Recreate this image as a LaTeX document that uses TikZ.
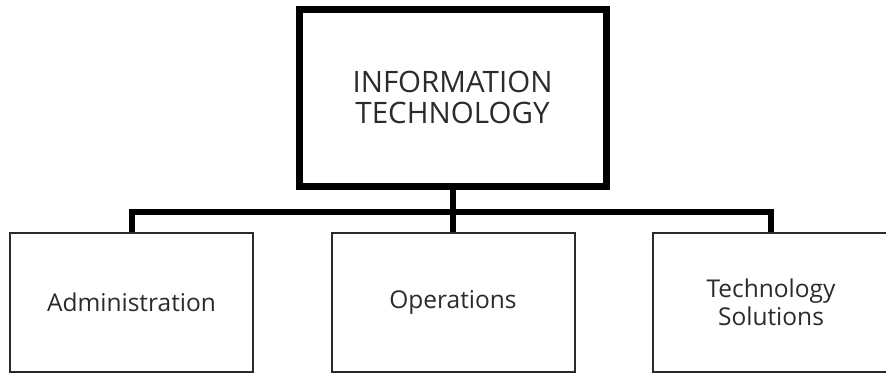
\documentclass[tikz,border=0pt]{standalone}
\usepackage{fontspec}
\setmainfont{Open Sans}
\usetikzlibrary{positioning}
\definecolor{inkgray}{HTML}{2B2B2B}

\tikzset{
  headbox/.style={draw=black, line width=7pt, minimum width=307pt, minimum height=177pt,
    align=center, text=inkgray, font=\fontsize{29.5}{31}\selectfont, inner sep=0pt},
  unitbox/.style={draw=inkgray, line width=2pt, minimum height=139pt,
    align=center, text=inkgray, font=\fontsize{24.5}{28}\selectfont, inner sep=0pt},
  conn/.style={draw=black, line width=6pt}
}

\begin{document}
\begin{tikzpicture}[x=1pt,y=-1pt]
  \useasboundingbox (0,0) rectangle (886,373);
  \clip (0,0) rectangle (886,373);

  % head of the chart
  \node[headbox] (it) at (452.5,97.5) {INFORMATION\\TECHNOLOGY};

  % the three units
  \node[unitbox, minimum width=243pt] (adm) at (131.5,302.5) {Administration};
  \node[unitbox, minimum width=243pt] (ops) at (453,302.5) {Operations};
  \node[unitbox, minimum width=236pt] (tech) at (771,302.5) {Technology\\Solutions};

  % connectors
  \coordinate (split) at (452.5,212);
  \draw[conn] (it.south) -- (split);
  \draw[conn] (adm.north) |- (split) -| (tech.north);
  \draw[conn] (split) -- (split |- ops.north);
\end{tikzpicture}
\end{document}
